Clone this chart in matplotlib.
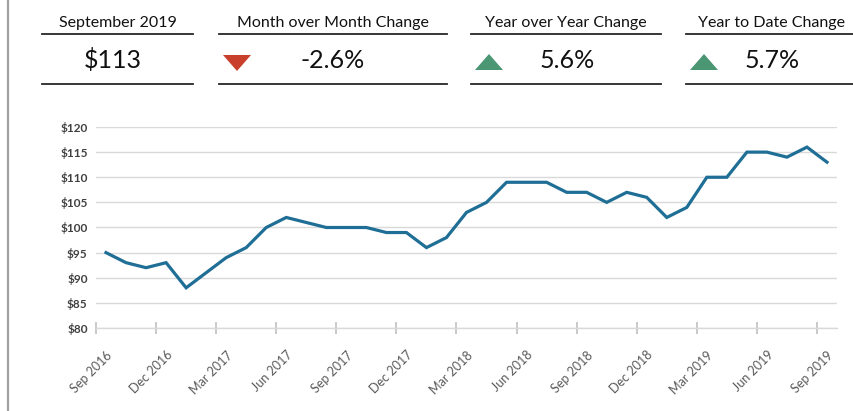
import matplotlib.pyplot as plt
from matplotlib.patches import Polygon

plt.rcParams['font.family'] = ['Lato', 'DejaVu Sans']

# ---- data ----
months = ['Sep 2016', 'Oct 2016', 'Nov 2016', 'Dec 2016', 'Jan 2017', 'Feb 2017',
          'Mar 2017', 'Apr 2017', 'May 2017', 'Jun 2017', 'Jul 2017', 'Aug 2017',
          'Sep 2017', 'Oct 2017', 'Nov 2017', 'Dec 2017', 'Jan 2018', 'Feb 2018',
          'Mar 2018', 'Apr 2018', 'May 2018', 'Jun 2018', 'Jul 2018', 'Aug 2018',
          'Sep 2018', 'Oct 2018', 'Nov 2018', 'Dec 2018', 'Jan 2019', 'Feb 2019',
          'Mar 2019', 'Apr 2019', 'May 2019', 'Jun 2019', 'Jul 2019', 'Aug 2019',
          'Sep 2019']
prices = [95, 93, 92, 93, 88, 91, 94, 96, 100, 102, 101, 100, 100, 100, 99, 99,
          96, 98, 103, 105, 109, 109, 109, 107, 107, 105, 107, 106, 102, 104,
          110, 110, 115, 115, 114, 116, 113]

kpi_titles = ['September 2019', 'Month over Month Change',
              'Year over Year Change', 'Year to Date Change']
kpi_values = ['$113', '-2.6%', '5.6%', '5.7%']
kpi_arrows = [None, 'down', 'up', 'up']

yticks = [80, 85, 90, 95, 100, 105, 110, 115, 120]

line_col = '#1f6e96'
grey_txt = '#595959'

fig = plt.figure(figsize=(8.54, 4.11), dpi=100)

# ---- header panel (pixel coordinates) ----
hdr = fig.add_axes([0, 0, 1, 1])
hdr.set_xlim(0, 854)
hdr.set_ylim(411, 0)
hdr.axis('off')

# left frame line
hdr.plot([8, 8], [0, 411], color='#a0a0a0', lw=1.6)

boxes = [(42, 193), (219, 447), (471, 661), (686, 860)]
title_x = [118, 333, 566, 772]
value_x = [113, 333, 567, 772]
arrow_x = [None, 237, 489, 704]

for i, (x0, x1) in enumerate(boxes):
    hdr.plot([x0, x1], [34, 34], color='#262626', lw=1.3)
    hdr.plot([x0, x1], [84, 84], color='#262626', lw=1.3)
    hdr.text(title_x[i], 23, kpi_titles[i], ha='center', va='center',
             fontsize=11.5, color='#111111')
    hdr.text(value_x[i], 60, kpi_values[i], ha='center', va='center',
             fontsize=18, color='#111111')
    ax0 = arrow_x[i]
    if kpi_arrows[i] == 'down':
        hdr.add_patch(Polygon([(ax0 - 14, 55), (ax0 + 14, 55), (ax0, 71)],
                              closed=True, color='#c8402c', lw=0))
    elif kpi_arrows[i] == 'up':
        hdr.add_patch(Polygon([(ax0 - 14, 70), (ax0 + 14, 70), (ax0, 54)],
                              closed=True, color='#4b9673', lw=0))

# ---- line chart ----
ax = fig.add_axes([96 / 854, 1 - 328 / 411, 741 / 854, 201 / 411])
x = list(range(len(prices)))
ax.plot(x, prices, color=line_col, lw=2.3, solid_joinstyle='miter', zorder=3)

ax.set_xlim(-0.5, len(prices) - 0.5)
ax.set_ylim(80, 120)
ax.set_yticks(yticks)
ax.set_yticklabels([f'${v}' for v in yticks], fontsize=8.5, fontweight='bold',
                   color='#404040')
ax.grid(axis='y', color='#d9d9d9', lw=1)
ax.set_axisbelow(True)

lab_idx = list(range(0, len(months), 3))
ax.set_xticks(lab_idx)
ax.set_xticklabels([months[i] for i in lab_idx], rotation=45, ha='right',
                   rotation_mode='anchor', fontsize=9, color=grey_txt)
ax.set_xticks([i - 0.5 for i in lab_idx], minor=True)
ax.tick_params(axis='x', which='major', length=0, pad=15)
ax.tick_params(axis='x', which='minor', length=8, direction='inout',
               color='#c0c0c0', width=1.2)
ax.tick_params(axis='y', length=0, pad=6)

for s in ['top', 'right', 'left']:
    ax.spines[s].set_visible(False)
ax.spines['bottom'].set_color('#d9d9d9')
ax.spines['bottom'].set_linewidth(1)

fig.savefig('out.png', dpi=100)
